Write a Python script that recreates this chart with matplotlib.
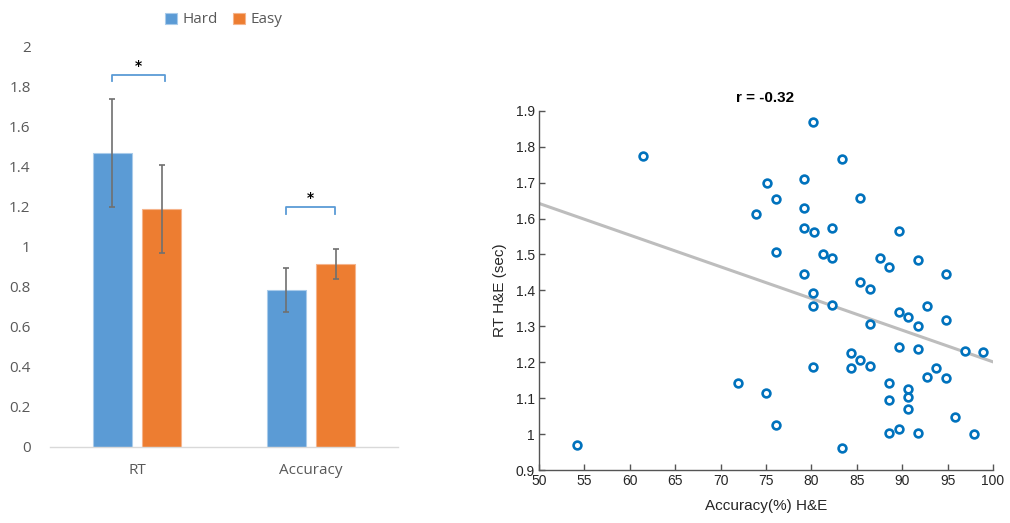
import numpy as np
import matplotlib
matplotlib.use("Agg")
import matplotlib.pyplot as plt

# bar panel: mean and error per measure
CATEGORIES = ["RT", "Accuracy"]
HARD_MEAN = [1.467, 0.783]
HARD_ERR = [0.27, 0.112]
EASY_MEAN = [1.187, 0.915]
EASY_ERR = [0.22, 0.075]

# scatter panel: accuracy (%) vs reaction time (sec)
ACC = [61.5, 73.9, 80.2, 83.4, 75.1, 79.2, 76.1, 85.4, 79.2, 79.15,
       80.3, 82.3, 89.6, 76.1, 81.3, 82.3, 87.5, 88.5, 91.7, 94.8,
       79.2, 85.4, 86.4, 80.2, 80.2, 82.3, 92.7, 89.6, 90.6, 91.7,
       94.8, 86.4, 89.6, 91.7, 96.9, 98.9, 84.4, 85.4, 84.4, 86.4,
       80.2, 93.7, 92.7, 94.8, 88.5, 71.9, 90.6, 75.0, 88.5, 90.6,
       90.6, 95.8, 76.1, 88.5, 89.6, 91.7, 97.9, 83.4, 54.2]
RT = [1.775, 1.612, 1.868, 1.766, 1.700, 1.709, 1.653, 1.656, 1.630, 1.573,
      1.562, 1.573, 1.566, 1.507, 1.501, 1.490, 1.490, 1.464, 1.484, 1.445,
      1.445, 1.423, 1.405, 1.392, 1.356, 1.359, 1.356, 1.341, 1.325, 1.302,
      1.318, 1.306, 1.242, 1.237, 1.230, 1.228, 1.226, 1.207, 1.185, 1.189,
      1.188, 1.185, 1.158, 1.155, 1.141, 1.143, 1.126, 1.114, 1.095, 1.104,
      1.069, 1.048, 1.025, 1.004, 1.013, 1.004, 1.001, 0.960, 0.969]
FIT_X = [50, 100]
FIT_Y = [1.642, 1.201]
R_TEXT = "r = -0.32"

BLUE = "#5B9BD5"
ORANGE = "#ED7D31"
GREY_TXT = "#595959"

fig = plt.figure(figsize=(10.10, 5.23), dpi=100)

# ---- left: grouped bars ----
ax1 = fig.add_axes([0.0495, 0.1459, 0.3446, 0.7648])
x = np.arange(len(CATEGORIES))
w = 0.224
off = 0.142
err_kw = dict(ecolor="#707070", elinewidth=1.2, capsize=2.5, capthick=1.2)
ax1.bar(x - off, HARD_MEAN, w, yerr=HARD_ERR, color=BLUE, edgecolor="#A9CBEA",
        linewidth=0.8, label="Hard", error_kw=err_kw, zorder=2)
ax1.bar(x + off, EASY_MEAN, w, yerr=EASY_ERR, color=ORANGE, edgecolor="#F5B48C",
        linewidth=0.8, label="Easy", error_kw=err_kw, zorder=2)
ax1.set_xlim(-0.5, 1.5)
ax1.set_ylim(0, 2)
ax1.set_yticks(np.arange(0, 2.01, 0.2))
ax1.set_yticklabels(["0", "0.2", "0.4", "0.6", "0.8", "1", "1.2", "1.4", "1.6", "1.8", "2"])
ax1.set_xticks(x)
ax1.set_xticklabels(CATEGORIES)
for s in ["top", "right", "left"]:
    ax1.spines[s].set_visible(False)
ax1.spines["bottom"].set_color("#D9D9D9")
ax1.spines["bottom"].set_linewidth(1.0)
ax1.tick_params(axis="both", length=0, labelsize=11, colors=GREY_TXT,
                labelfontfamily="Open Sans")
ax1.tick_params(axis="y", pad=14)
ax1.tick_params(axis="x", pad=12)

# significance brackets
def bracket(ax, x0, x1, y, drop, star_y):
    ax.plot([x0, x0, x1, x1], [y - drop, y, y, y - drop], color=BLUE, lw=1.3,
            clip_on=False, zorder=3)
    ax.text((x0 + x1) / 2, star_y, "*", ha="center", va="center", fontsize=10,
            fontweight="bold", color="black")

bracket(ax1, -0.142, 0.162, 1.86, 0.03, 1.905)
bracket(ax1, 0.855, 1.14, 1.20, 0.035, 1.245)

leg = ax1.legend(loc="upper center", bbox_to_anchor=(0.5, 1.12), ncol=2,
                 frameon=False, handlelength=0.75, handleheight=0.75,
                 handletextpad=0.4, columnspacing=1.0,
                 prop={"family": "Open Sans", "size": 11})
for t in leg.get_texts():
    t.set_color(GREY_TXT)

# ---- right: scatter with fitted line ----
ax2 = fig.add_axes([0.5337, 0.1013, 0.4495, 0.687])
ax2.plot(FIT_X, FIT_Y, color="#BDBDBD", lw=2.2, zorder=1)
ax2.plot(ACC, RT, linestyle="none", marker="o", markersize=5.6,
         markerfacecolor="white", markeredgecolor="#0072BD",
         markeredgewidth=1.9, zorder=2)
ax2.set_xlim(50, 100)
ax2.set_ylim(0.9, 1.9)
ax2.set_xticks(np.arange(50, 101, 5))
ax2.set_yticks(np.arange(0.9, 1.91, 0.1))
ax2.set_yticklabels(["0.9", "1", "1.1", "1.2", "1.3", "1.4", "1.5", "1.6", "1.7", "1.8", "1.9"])
for s in ["top", "right"]:
    ax2.spines[s].set_visible(False)
for s in ["left", "bottom"]:
    ax2.spines[s].set_color("#555555")
    ax2.spines[s].set_linewidth(1.0)
ax2.tick_params(axis="both", direction="in", length=4, width=1.0,
                color="#555555", labelsize=10, labelcolor="#262626",
                labelfontfamily="Liberation Sans", pad=3)
ax2.set_xlabel("Accuracy(%) H&E", fontsize=11, color="#262626",
               family="Liberation Sans", labelpad=8)
ax2.set_ylabel("RT H&E (sec)", fontsize=11, color="#262626",
               family="Liberation Sans", labelpad=6)
ax2.text(74.9, 1.935, R_TEXT, ha="center", va="center", fontsize=11,
         fontweight="bold", family="Liberation Sans", color="black")

fig.savefig("out.png", dpi=100)
